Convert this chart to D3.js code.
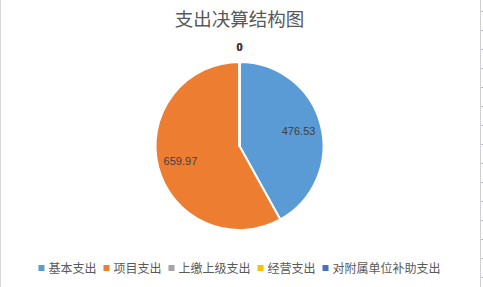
<!DOCTYPE html>
<html>
<head>
<meta charset="utf-8">
<script src="https://cdn.jsdelivr.net/npm/d3@7"></script>
<style>
html,body{margin:0;padding:0;background:#fff;}
svg{display:block;}
</style>
</head>
<body>
<svg id="chart" width="483" height="287"></svg>
<script>
const title = "支出决算结构图";
const categories = ["基本支出", "项目支出", "上缴上级支出", "经营支出", "对附属单位补助支出"];
const values = [476.53, 659.97, 0, 0, 0];
const colors = ["#5B9BD5", "#ED7D31", "#A5A5A5", "#FFC000", "#4472C4"];
const gridTicks = d3.range(0, 15);

const W = 483, H = 287;
const svg = d3.select("#chart");
const cx = 239.5, cy = 146, R = 84;

// frame lines (sheet edges)
svg.append("line").attr("x1", 0.5).attr("x2", 0.5).attr("y1", 0).attr("y2", H)
  .attr("stroke", "#d9d9d9").attr("stroke-width", 1);
svg.append("line").attr("x1", 480.5).attr("x2", 480.5).attr("y1", 0).attr("y2", H)
  .attr("stroke", "#d0d0d8").attr("stroke-width", 1);
const tickY = d3.scaleLinear().domain([0, 1]).range([11.3, 30.3]);
svg.selectAll("line.gt").data(gridTicks).enter().append("line")
  .attr("class", "gt")
  .attr("x1", 481).attr("x2", 483)
  .attr("y1", d => Math.round(tickY(d)) + 0.5).attr("y2", d => Math.round(tickY(d)) + 0.5)
  .attr("stroke", "#b8b8c8").attr("stroke-width", 1);

// title
svg.append("text").attr("x", cx).attr("y", 26)
  .attr("text-anchor", "middle")
  .attr("font-family", "'Noto Sans CJK SC', sans-serif")
  .attr("font-size", 18.5).attr("fill", "#595959")
  .text(title);

const data = categories.map((c, i) => ({ name: c, value: values[i], color: colors[i] }));
const pie = d3.pie().sort(null).value(d => d.value);
const arcs = pie(data);
const arc = d3.arc().innerRadius(0).outerRadius(R);
const labelArc = d3.arc().innerRadius(61).outerRadius(61);
const outerLabelArc = d3.arc().innerRadius(99).outerRadius(99);

const g = svg.append("g").attr("transform", `translate(${cx},${cy})`);
g.selectAll("path").data(arcs).enter().append("path")
  .attr("d", arc)
  .attr("fill", d => d.data.color)
  .attr("stroke", "#fff").attr("stroke-width", 2).attr("stroke-linejoin", "round");

g.selectAll("text.lbl").data(arcs).enter().append("text")
  .attr("class", "lbl")
  .attr("transform", d => {
    const p = d.data.value === 0 ? outerLabelArc.centroid(d) : labelArc.centroid(d);
    return `translate(${p[0]},${p[1]})`;
  })
  .attr("text-anchor", "middle").attr("dominant-baseline", "central")
  .attr("font-family", "'Liberation Sans', Arial, sans-serif")
  .attr("font-size", 11)
  .attr("font-weight", d => d.data.value === 0 ? "bold" : "normal")
  .attr("fill", "#404040")
  .text(d => d3.format(".2~f")(d.data.value));

// legend
const lg = svg.append("g");
const items = lg.selectAll("g").data(data).enter().append("g");
items.append("rect").attr("width", 6).attr("height", 6).attr("y", 265)
  .attr("fill", d => d.color);
items.append("text").attr("x", 10).attr("y", 272.5)
  .attr("font-family", "'Noto Sans CJK SC', sans-serif")
  .attr("font-size", 12).attr("fill", "#595959")
  .text(d => d.name);
let x = 0;
const gap = 7;
items.each(function () {
  const w = d3.select(this).select("text").node().getComputedTextLength();
  d3.select(this).attr("transform", `translate(${x},0)`);
  x += 10 + w + gap;
});
const total = x - gap;
lg.attr("transform", `translate(${cx - total / 2},0)`);
</script>
</body>
</html>
